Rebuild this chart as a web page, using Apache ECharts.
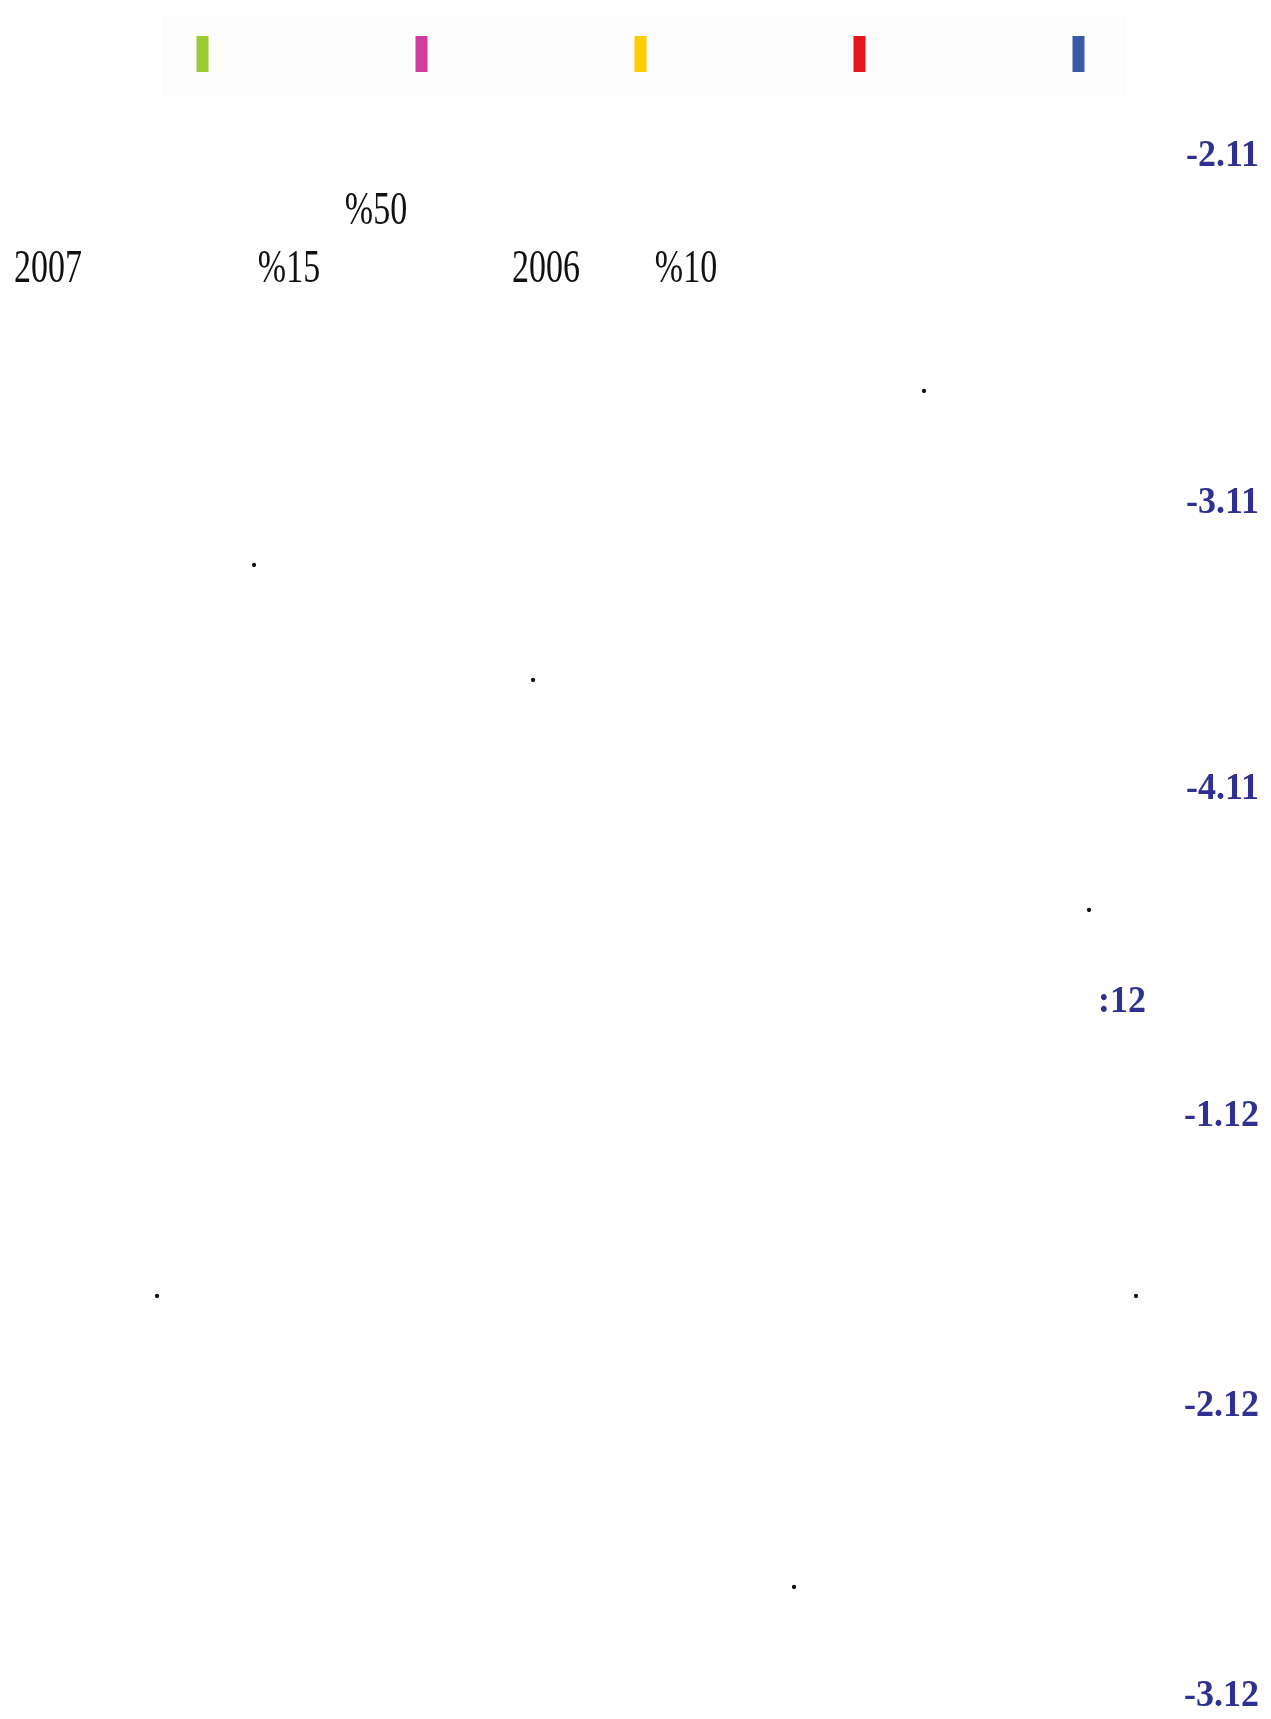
<!DOCTYPE html>
<html>
<head>
<meta charset="utf-8">
<script src="https://cdn.jsdelivr.net/npm/echarts@6/dist/echarts.min.js"></script>
<style>
  html, body { margin: 0; padding: 0; background: #fff; }
  #main { width: 1271px; height: 1719px; }
</style>
</head>
<body>
<div id="main"></div>
<script>
// legend strip: five thin colour swatches
const swatchNames = ['1', '2', '3', '4', '5']
const swatchValues = [1, 1, 1, 1, 1]
const swatchColors = ['#9acd32', '#d23c9e', '#ffcc00', '#e8141c', '#3a5aa8']

// section headings (right column) and the numbers in the text
const headings = ['-2.11', '-3.11', '-4.11', ':12', '-1.12', '-2.12', '-3.12']
const figures = ['%50', '2007', '%15', '2006', '%10']

// layout only
const headingPos = [[1259, 156], [1259, 503], [1259, 789], [1146, 1002], [1259, 1116], [1259, 1406], [1259, 1696]]
const figurePos = [[376, 212], [48, 270], [289, 270], [546, 270], [686, 270]]
const dotPos = [[924, 394], [254, 568], [533, 683], [1089, 913], [157, 1299], [1136, 1299], [794, 1590]]

const serif = 'Liberation Serif'
const chart = echarts.init(document.getElementById('main'))

const graphics = [
  // light strip behind the swatches
  { type: 'rect', z: -10, shape: { x: 163, y: 15, width: 964, height: 82 }, style: { fill: '#fcfcfc' } }
]
headings.forEach((t, i) => {
  graphics.push({
    type: 'text', x: headingPos[i][0], y: headingPos[i][1], scaleY: 1.05,
    style: { text: t, fill: '#2e3192', font: 'bold 36px ' + serif, align: 'right', verticalAlign: 'middle' }
  })
})
figures.forEach((t, i) => {
  graphics.push({
    type: 'text', x: figurePos[i][0], y: figurePos[i][1], scaleY: 1.35,
    style: { text: t, fill: '#111', font: '34px ' + serif, align: 'center', verticalAlign: 'middle' }
  })
})
dotPos.forEach(p => {
  graphics.push({
    type: 'text', x: p[0], y: p[1] + 8,
    style: { text: '.', fill: '#111', font: '36px ' + serif, align: 'center', verticalAlign: 'bottom' }
  })
})

chart.setOption({
  backgroundColor: '#ffffff',
  animation: false,
  grid: { left: 93, right: 83, top: 36, height: 36 },
  xAxis: {
    type: 'category',
    data: swatchNames,
    show: false
  },
  yAxis: { type: 'value', min: 0, max: 1, show: false },
  series: [{
    type: 'bar',
    barWidth: 12,
    data: swatchValues.map((v, i) => ({ value: v, itemStyle: { color: swatchColors[i] } }))
  }],
  graphic: graphics
})
</script>
</body>
</html>
